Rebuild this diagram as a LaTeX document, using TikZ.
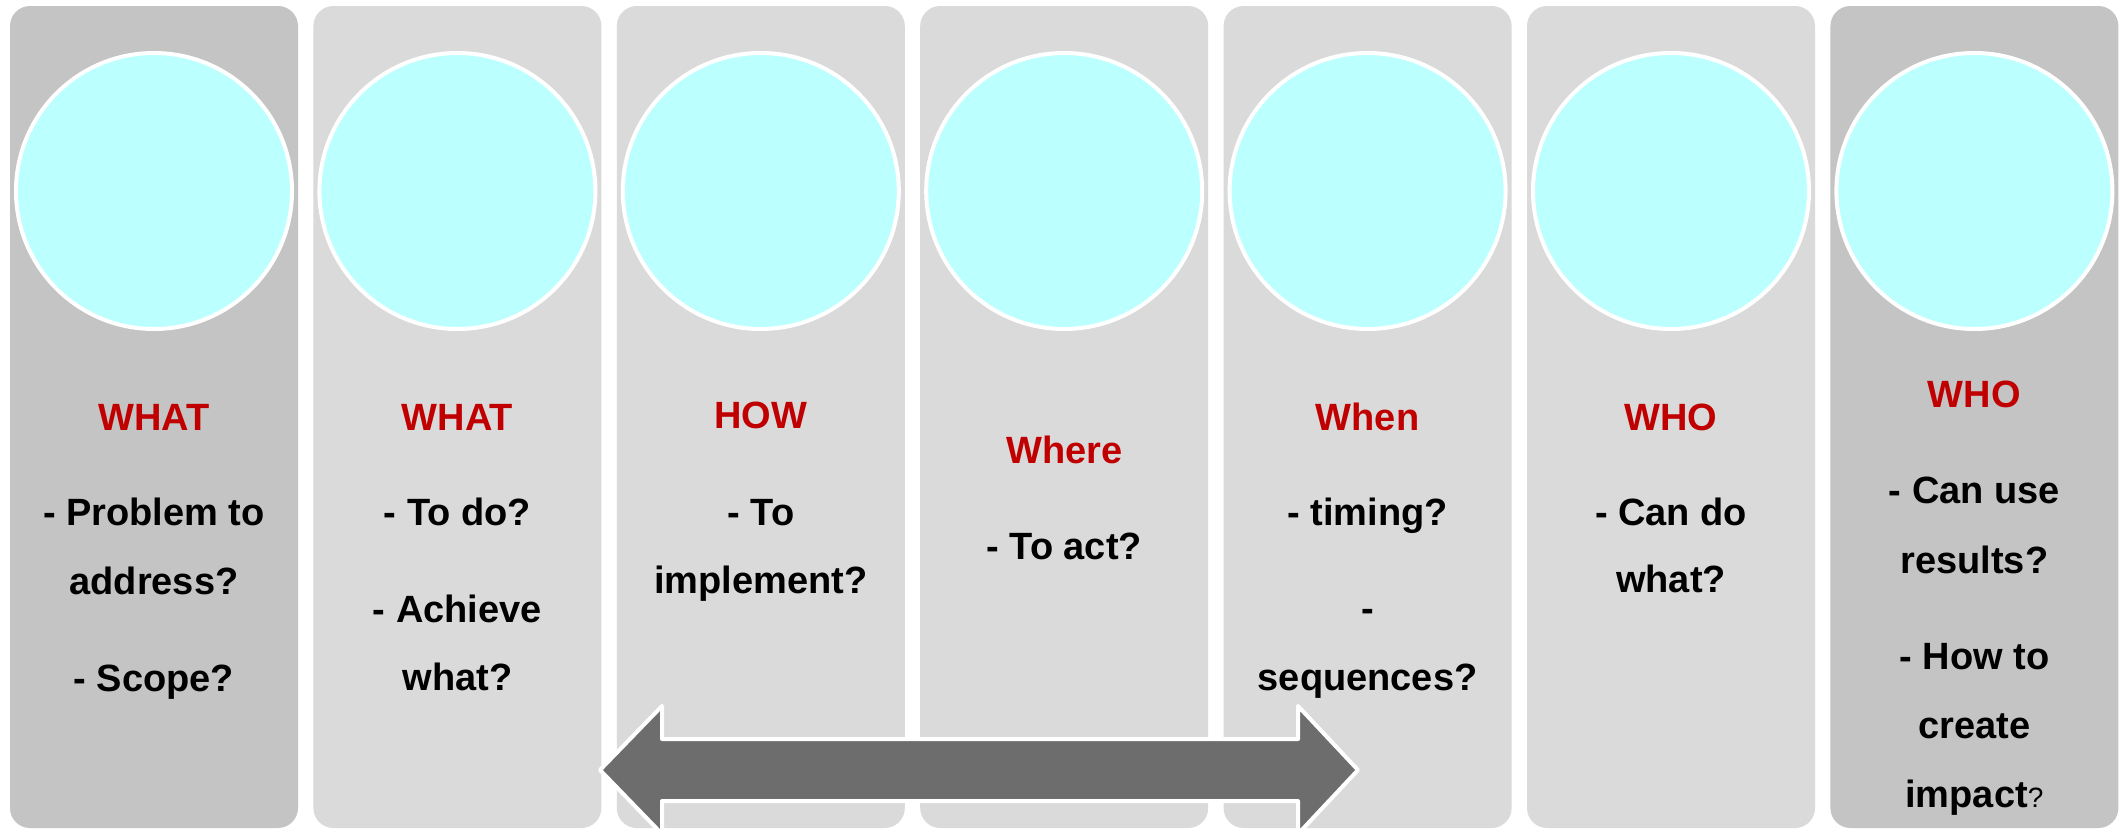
\documentclass[tikz,border=0pt]{standalone}
\usepackage{fontspec}
\setmainfont{Liberation Sans}
\definecolor{darkcol}{HTML}{C4C4C4}
\definecolor{lightcol}{HTML}{DADADA}
\definecolor{cyanfill}{HTML}{BBFFFF}
\definecolor{redtxt}{HTML}{C00000}
\definecolor{arrowgray}{HTML}{6D6D6D}
\begin{document}
\begin{tikzpicture}[x=0.5pt,y=-0.5pt,
  colbox/.style={rounded corners=10pt},
  circ/.style={circle, fill=cyanfill, draw=white, line width=2pt, minimum size=138pt, inner sep=0pt},
  txt/.style={font=\bfseries\fontsize{19}{19}\selectfont, anchor=base, inner sep=0pt, text=black},
  head/.style={txt, text=redtxt},
  bigarrow/.style={fill=arrowgray, draw=white, line width=2pt, line join=round}]
\useasboundingbox (0,0) rectangle (2125,831);
\fill[white] (0,0) rectangle (2125,831);
\foreach \i/\c in {1/darkcol,2/lightcol,3/lightcol,4/lightcol,5/lightcol,6/lightcol,7/darkcol} {
  \pgfmathsetmacro\L{10+303.4*(\i-1)}
  \fill[\c, colbox] (\L,6) rectangle ++(288,822);
  \node[circ] (c\i) at (\L+144,191) {};
}
% column 1
\node[head] (h1) at (154,430) {WHAT};
\node[txt] (t1a) at (154,525) {- Problem to};
\node[txt] (t1b) at (154,594) {address?};
\node[txt] (t1c) at (154,691) {- Scope?};
% column 2
\node[head] (h2) at (457.4,430) {WHAT};
\node[txt] (t2a) at (457.4,525) {- To do?};
\node[txt] (t2b) at (457.4,622) {- Achieve};
\node[txt] (t2c) at (457.4,690) {what?};
% column 3
\node[head] (h3) at (760.8,428) {HOW};
\node[txt] (t3a) at (760.8,525) {- To};
\node[txt] (t3b) at (760.8,593) {implement?};
% column 4
\node[head] (h4) at (1064.2,463) {Where};
\node[txt] (t4a) at (1064.2,559) {- To act?};
% column 5
\node[head] (h5) at (1367.6,430) {When};
\node[txt] (t5a) at (1367.6,525) {- timing?};
\node[txt] (t5b) at (1367.6,621) {-};
\node[txt] (t5c) at (1367.6,690) {sequences?};
% column 6
\node[head] (h6) at (1671,430) {WHO};
\node[txt] (t6a) at (1671,525) {- Can do};
\node[txt] (t6b) at (1671,592) {what?};
% column 7
\node[head] (h7) at (1974.4,407) {WHO};
\node[txt] (t7a) at (1974.4,503) {- Can use};
\node[txt] (t7b) at (1974.4,573) {results?};
\node[txt] (t7c) at (1974.4,669) {- How to};
\node[txt] (t7d) at (1974.4,738) {create};
\node[txt] (t7e) at (1974.4,807) {impact{\mdseries\fontsize{14}{14}\selectfont ?}};
% double arrow
\draw[bigarrow] (600,770) -- (662,706) -- (662,739) -- (1298,739) -- (1298,706)
  -- (1358,770) -- (1298,834) -- (1298,801) -- (662,801) -- (662,834) -- cycle;
\end{tikzpicture}
\end{document}
